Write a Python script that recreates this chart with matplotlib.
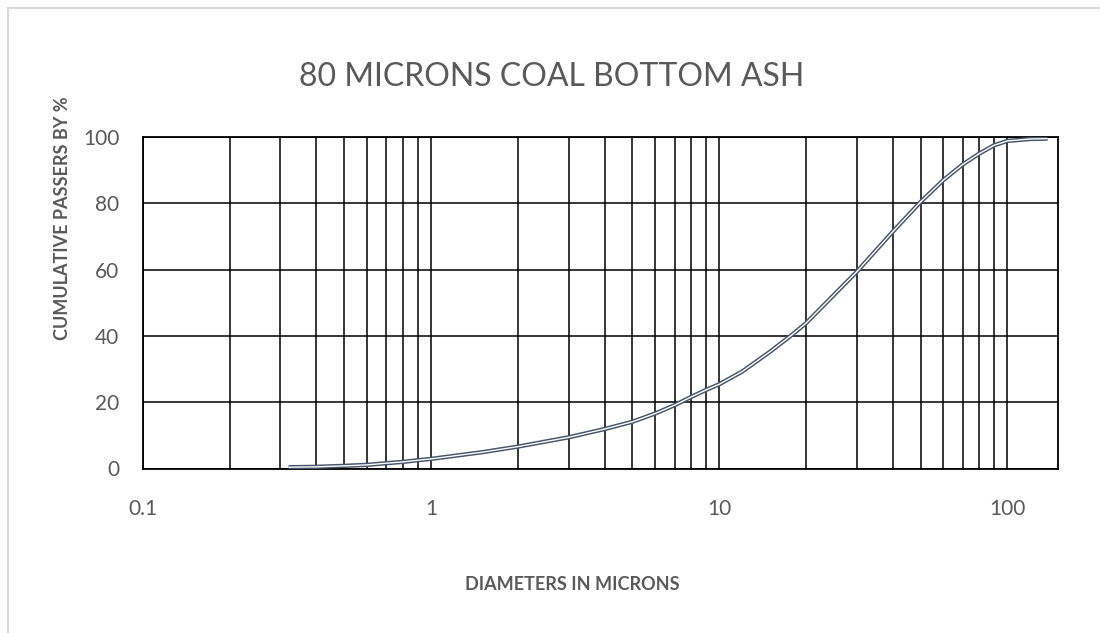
import numpy as np
import matplotlib
matplotlib.use("Agg")
import matplotlib.pyplot as plt
from matplotlib.ticker import LogLocator, FixedLocator, FixedFormatter, NullFormatter
from matplotlib.lines import Line2D

# grain size distribution
diameter = [0.32, 0.4, 0.5, 0.6, 0.7, 0.8, 0.9, 1, 1.5, 2, 3, 4, 5, 6, 7, 8, 9, 10,
            12, 15, 17.7, 20, 30, 40, 50, 60, 70, 80, 90, 100, 120, 138]
passing = [0.4, 0.5, 0.8, 1.1, 1.6, 2.0, 2.5, 2.9, 4.9, 6.6, 9.4, 11.9, 14.1, 16.6, 19.1, 21.6, 23.7, 25.4,
           29.2, 35.2, 40.0, 43.8, 59.3, 71.4, 80.4, 87.0, 91.7, 95.0, 97.5, 98.8, 99.4, 99.5]

x_ticks = [0.1, 1, 10, 100]
x_labels = ["0.1", "1", "10", "100"]
y_ticks = [0, 20, 40, 60, 80, 100]

title = "80 MICRONS COAL BOTTOM ASH"
xlabel = "DIAMETERS IN MICRONS"
ylabel = "CUMULATIVE PASSERS BY %"

grey = "#595959"
slate = "#44546A"
font = ["Lato", "DejaVu Sans"]

W, H = 1100, 633
fig = plt.figure(figsize=(W / 100, H / 100), dpi=100)
ax = fig.add_axes([143 / W, 1 - 468.5 / H, (1058 - 143) / W, (468.5 - 137) / H])

# double (compound) line: dark stroke with a thin white core
ax.plot(diameter, passing, color=slate, lw=3.1, solid_capstyle="butt", zorder=3)
ax.plot(diameter, passing, color="white", lw=1.0, solid_capstyle="butt", zorder=4)

ax.set_xscale("log")
ax.set_xlim(0.1, 150)
ax.set_ylim(0, 100)

ax.xaxis.set_major_locator(FixedLocator(x_ticks))
ax.xaxis.set_major_formatter(FixedFormatter(x_labels))
ax.xaxis.set_minor_locator(LogLocator(base=10, subs=np.arange(2, 10)))
ax.xaxis.set_minor_formatter(NullFormatter())
ax.set_yticks(y_ticks)

ax.grid(True, which="both", axis="x", color="black", lw=1.1)
ax.grid(True, which="major", axis="y", color="black", lw=1.1)
ax.set_axisbelow(True)
for s in ax.spines.values():
    s.set_color("black")
    s.set_linewidth(1.3)

ax.tick_params(axis="both", which="both", length=0)
ax.tick_params(axis="x", pad=22)
ax.tick_params(axis="y", pad=17)
for lab in ax.get_xticklabels() + ax.get_yticklabels():
    lab.set_family(font)
    lab.set_fontsize(15)
    lab.set_color(grey)

fig.text(552 / W, 1 - 77 / H, title, ha="center", va="center",
         family=font, fontweight="normal", fontsize=23, color=grey)
fig.text(572 / W, 1 - 584 / H, xlabel, ha="center", va="center",
         family=font, fontweight="bold", fontsize=13, color=grey)
fig.text(62 / W, 1 - 218 / H, ylabel, ha="center", va="center", rotation=90,
         family=font, fontweight="bold", fontsize=13, color=grey)

# light chart-area border (only top and left edges visible)
bx, by = 8 / W, 1 - 8 / H
fig.add_artist(Line2D([bx, bx], [0, by], color="#D9D9D9", lw=1.5, transform=fig.transFigure))
fig.add_artist(Line2D([bx, 1], [by, by], color="#D9D9D9", lw=1.5, transform=fig.transFigure))

fig.savefig("out.png", dpi=100)
